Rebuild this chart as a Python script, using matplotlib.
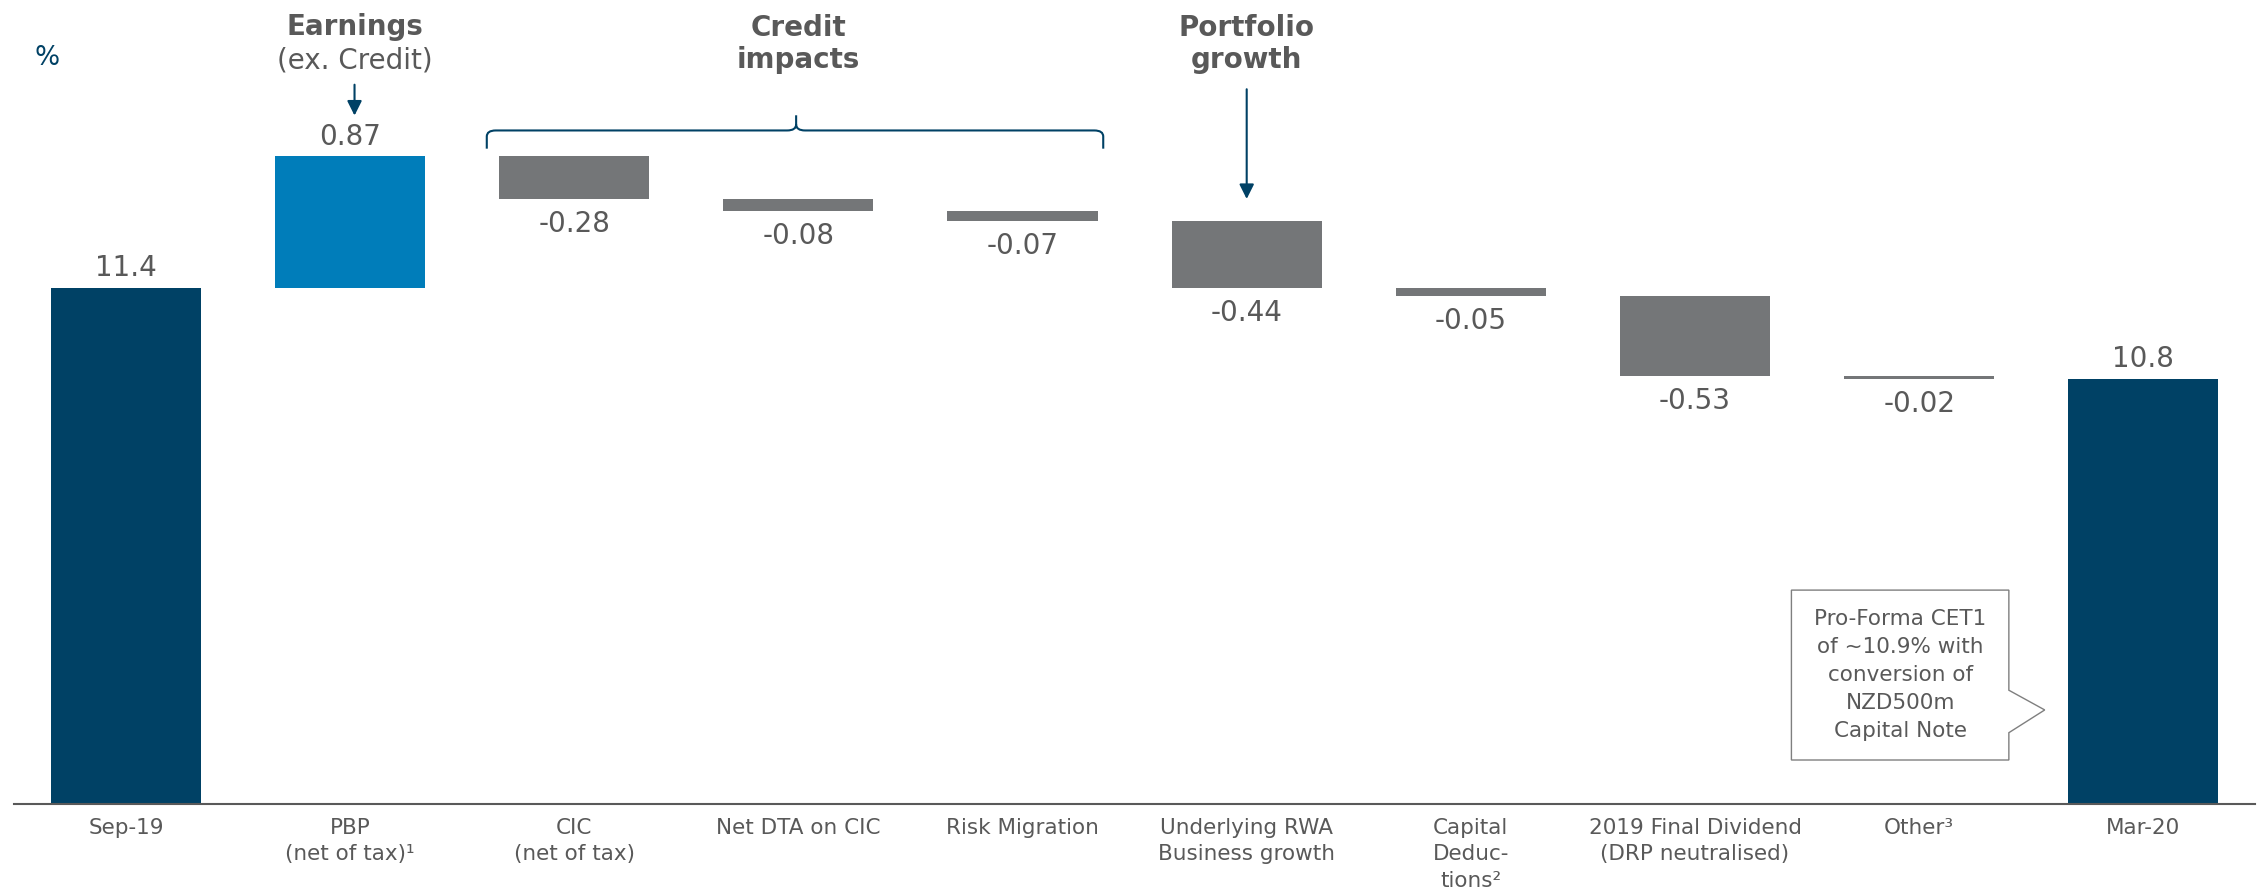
import matplotlib.pyplot as plt
from matplotlib.patches import Polygon
from matplotlib.path import Path
from matplotlib.patches import PathPatch

categories = ["Sep-19", "PBP\n(net of tax)\u00b9", "CIC\n(net of tax)", "Net DTA on CIC",
              "Risk Migration", "Underlying RWA\nBusiness growth", "Capital\nDeduc-\ntions\u00b2",
              "2019 Final Dividend\n(DRP neutralised)", "Other\u00b3", "Mar-20"]
start_value = 11.4
end_value = 10.8
changes = [0.87, -0.28, -0.08, -0.07, -0.44, -0.05, -0.53, -0.02]
change_labels = ["0.87", "-0.28", "-0.08", "-0.07", "-0.44", "-0.05", "-0.53", "-0.02"]

navy = "#004165"
blue = "#007dba"
grey = "#747678"
txt = "#595959"

plt.rcParams['font.family'] = ['DejaVu Sans']

fig = plt.figure(figsize=(22.62, 8.88), dpi=100)
ax = fig.add_axes([0.0061, 0.0946, 0.991, 0.9054])

# totals
ax.bar(0, start_value - 8, bottom=8, width=0.67, color=navy)
ax.bar(9, end_value - 8, bottom=8, width=0.67, color=navy)
ax.annotate("11.4", (0, start_value), xytext=(0, 14.5), textcoords="offset points",
            ha="center", va="center", fontsize=20, color=txt)
ax.annotate("10.8", (9, end_value), xytext=(0, 14.5), textcoords="offset points",
            ha="center", va="center", fontsize=20, color=txt)

# floating bars
level = start_value
for i, (c, lab) in enumerate(zip(changes, change_labels)):
    x = i + 1
    col = blue if c > 0 else grey
    ax.bar(x, c, bottom=level, width=0.67, color=col)
    if c > 0:
        ax.annotate(lab, (x, level + c), xytext=(0, 13.5), textcoords="offset points",
                    ha="center", va="center", fontsize=20, color=txt)
    else:
        ax.annotate(lab, (x, level + c), xytext=(0, -18), textcoords="offset points",
                    ha="center", va="center", fontsize=20, color=txt)
    level += c

ax.set_xlim(-0.5, 9.5)
ax.set_ylim(8.0, 13.30)
ax.set_yticks([])
ax.set_xticks(range(10))
ax.set_xticklabels(categories, fontsize=15.5, color=txt, linespacing=1.4)
ax.tick_params(axis="x", length=0, pad=10)
for s in ["left", "right", "top"]:
    ax.spines[s].set_visible(False)
ax.spines["bottom"].set_color(txt)
ax.spines["bottom"].set_linewidth(1.5)

# unit label
ax.text(-0.35, 12.92, "%", fontsize=19, color=navy, ha="center", va="center")

# headers
ax.text(1.02, 13.12, "Earnings", fontsize=20, fontweight="bold", color=txt, ha="center", va="center")
ax.text(1.02, 12.90, "(ex. Credit)", fontsize=20, color=txt, ha="center", va="center")
ax.text(3.0, 13.01, "Credit\nimpacts", fontsize=20, fontweight="bold", color=txt,
        ha="center", va="center", linespacing=1.2)
ax.text(5.0, 13.01, "Portfolio\ngrowth", fontsize=20, fontweight="bold", color=txt,
        ha="center", va="center", linespacing=1.2)

# arrows
ax.annotate("", xy=(1.02, 12.52), xytext=(1.02, 12.76),
            arrowprops=dict(arrowstyle="-|>", color=navy, lw=1.5, mutation_scale=22))
ax.annotate("", xy=(5.0, 11.97), xytext=(5.0, 12.73),
            arrowprops=dict(arrowstyle="-|>", color=navy, lw=1.5, mutation_scale=22))

# brace over credit impacts
x0, x1, xm = 1.61, 4.36, 2.99
yb, yl, yt = 12.44, 12.32, 12.54
dx, dy = 0.04, 0.04
verts = [(x0, yl), (x0, yb - dy), (x0, yb), (x0 + dx, yb),
         (xm - dx, yb), (xm, yb), (xm, yb + dy), (xm, yt),
         (xm, yb + dy), (xm, yb), (xm + dx, yb),
         (x1 - dx, yb), (x1, yb), (x1, yb - dy), (x1, yl)]
codes = [Path.MOVETO, Path.LINETO, Path.CURVE3, Path.CURVE3,
         Path.LINETO, Path.CURVE3, Path.CURVE3, Path.LINETO,
         Path.MOVETO, Path.CURVE3, Path.CURVE3,
         Path.LINETO, Path.CURVE3, Path.CURVE3, Path.LINETO]
ax.add_patch(PathPatch(Path(verts, codes), fill=False, edgecolor=navy, lw=1.5))

# callout box
box = [(7.43, 9.41), (8.40, 9.41), (8.40, 8.75), (8.56, 8.62), (8.40, 8.47),
       (8.40, 8.29), (7.43, 8.29)]
ax.add_patch(Polygon(box, closed=True, facecolor="white", edgecolor="#7f7f7f", lw=1.0))
ax.text(7.915, 8.85, "Pro-Forma CET1\nof ~10.9% with\nconversion of\nNZD500m\nCapital Note",
        fontsize=15.5, color=txt, ha="center", va="center", linespacing=1.5)

fig.savefig("out.png", dpi=100)
